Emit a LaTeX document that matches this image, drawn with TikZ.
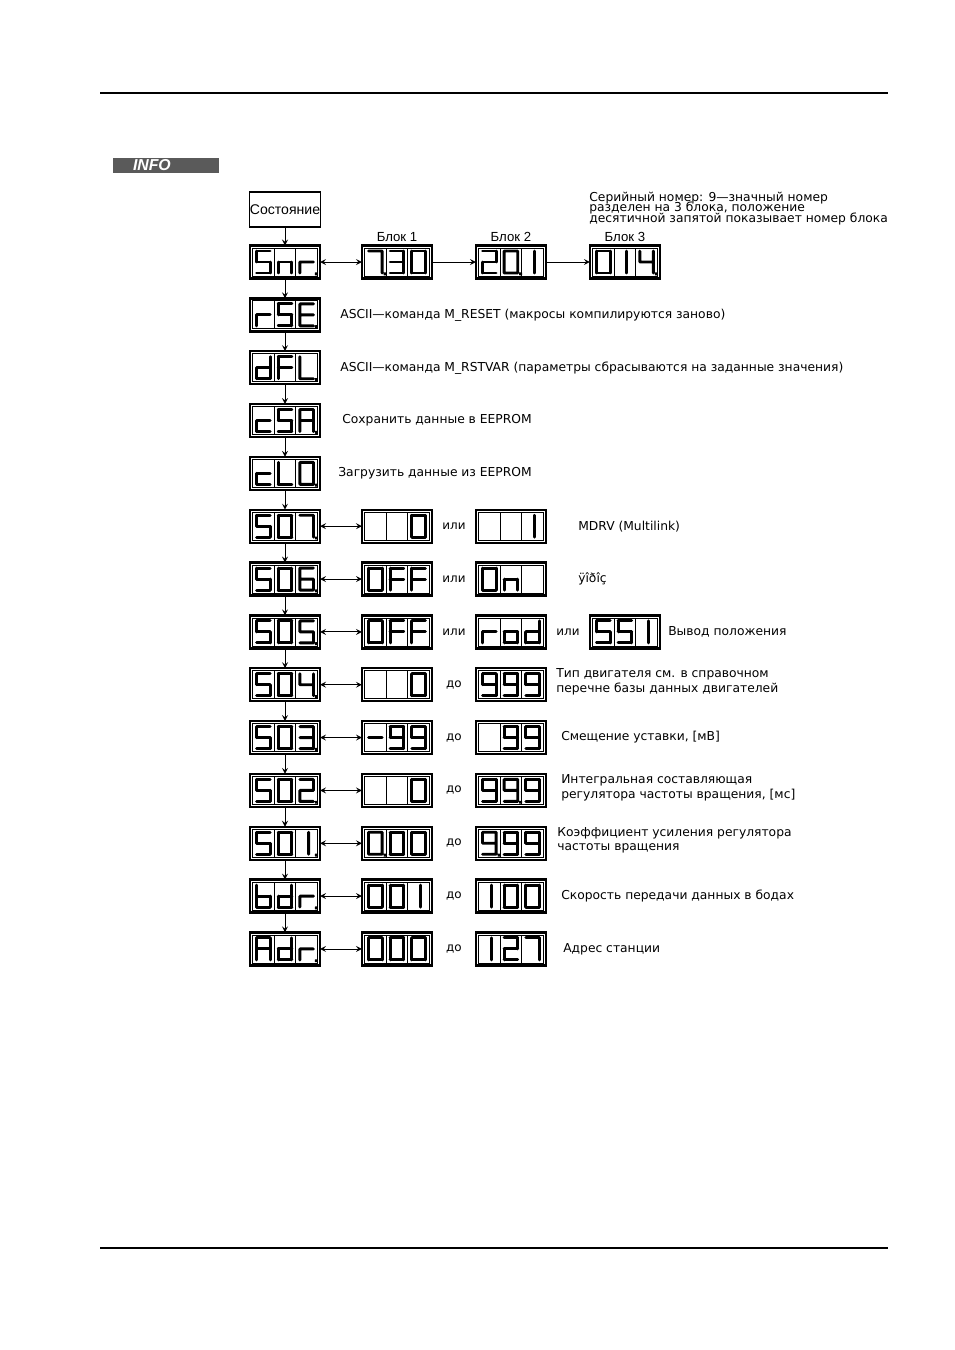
\documentclass[tikz,border=0pt]{standalone}
\usepackage{fontspec}
\setmainfont{Liberation Sans}
\newfontfamily\descfont{DejaVu Sans}
\usepackage{tikz}
\usetikzlibrary{arrows,positioning,calc}
\definecolor{infogris}{RGB}{90,90,90}
\newcommand{\notefont}{\descfont\fontsize{7}{5.9}\selectfont
  \lineskiplimit=-5pt\relax\lineskip=0pt\relax}

\tikzset{
  dispbox/.style={
    rectangle, draw, line width=1.3pt, minimum width=1.4cm,
    minimum height=0.66cm, inner sep=0pt, outer sep=0pt
  },
  statebox/.style={
    rectangle, draw, line width=0.6pt, minimum width=1.4cm,
    minimum height=0.7cm, inner sep=0pt, font=\fontsize{8}{9}\selectfont
  },
  infobox/.style={
    rectangle, fill=infogris, text=white, minimum height=0.3cm,
    inner xsep=0.4cm, inner ysep=0pt, text width=1.32cm, align=left,
    font=\fontsize{9}{9}\selectfont\bfseries\itshape
  },
  blklabel/.style={font=\fontsize{7.5}{8}\selectfont, inner sep=0pt},
  desc/.style={font=\descfont\fontsize{7}{8.4}\selectfont, inner sep=0pt, align=left},
  notetext/.style={font=\notefont, inner sep=0pt, align=left},
  orlabel/.style={font=\descfont\fontsize{6.8}{8}\selectfont, inner sep=0pt},
  rule/.style={line width=1.4pt},
  innerline/.style={line width=0.45pt},
  vlink/.style={->, >=stealth, line width=0.5pt},
  hlink/.style={<->, >=stealth, line width=0.5pt},
  segline/.style={line width=1.65pt, line cap=round, line join=round},
  % seven segments, cell centre at origin (y goes down)
  seg-a/.style={insert path={(-6.8,-11) -- (6.8,-11)}},
  seg-b/.style={insert path={(6.8,-11) -- (6.8,0)}},
  seg-c/.style={insert path={(6.8,0) -- (6.8,11)}},
  seg-d/.style={insert path={(-6.8,11) -- (6.8,11)}},
  seg-e/.style={insert path={(-6.8,0) -- (-6.8,11)}},
  seg-f/.style={insert path={(-6.8,-11) -- (-6.8,0)}},
  seg-g/.style={insert path={(-6.8,0) -- (6.8,0)}},
  seg-i/.style={insert path={(2,-11) -- (2,11)}},
  dp/.style={insert path={(9.7,11.8) circle[radius=0.25pt]}},
  ch-0/.style={seg-a,seg-b,seg-c,seg-d,seg-e,seg-f},
  ch-1/.style={seg-i},
  ch-2/.style={seg-a,seg-b,seg-g,seg-e,seg-d},
  ch-3/.style={seg-a,seg-b,seg-g,seg-c,seg-d},
  ch-4/.style={seg-f,seg-g,seg-b,seg-c},
  ch-5/.style={seg-a,seg-f,seg-g,seg-c,seg-d},
  ch-6/.style={seg-a,seg-f,seg-g,seg-e,seg-d,seg-c},
  ch-7/.style={seg-a,seg-b,seg-c},
  ch-9/.style={seg-a,seg-b,seg-c,seg-d,seg-f,seg-g},
  ch-A/.style={seg-a,seg-b,seg-c,seg-e,seg-f,seg-g},
  ch-b/.style={seg-f,seg-e,seg-d,seg-c,seg-g},
  ch-c/.style={seg-g,seg-e,seg-d},
  ch-d/.style={seg-b,seg-c,seg-d,seg-e,seg-g},
  ch-E/.style={seg-a,seg-f,seg-g,seg-e,seg-d},
  ch-F/.style={seg-a,seg-f,seg-g,seg-e},
  ch-L/.style={seg-f,seg-e,seg-d},
  ch-n/.style={seg-e,seg-g,seg-c},
  ch-o/.style={seg-g,seg-c,seg-d,seg-e},
  ch-r/.style={seg-e,seg-g},
  ch-Q/.style={seg-a,seg-b,seg-c,seg-d,seg-e,seg-f},
  ch-minus/.style={seg-g}
}

% one cell of a display: node, cell (-1,0,1), character keys
\newcommand{\segcell}[3]{%
  \draw[segline, shift={($(#1.center)+(#2*21.67,0)$)}, #3];}
% inner frame, cell walls and the three characters
\newcommand{\segdisp}[4]{%
  \draw[innerline] ($(#1.north west)+(2.5,2.5)$) rectangle ($(#1.south east)+(-2.5,-2.5)$);
  \draw[innerline] ($(#1.north)+(-10.83,2.5)$) -- ($(#1.south)+(-10.83,-2.5)$);
  \draw[innerline] ($(#1.north)+(10.83,2.5)$) -- ($(#1.south)+(10.83,-2.5)$);
  \segcell{#1}{-1}{#2}\segcell{#1}{0}{#3}\segcell{#1}{1}{#4}}

\begin{document}
\begin{tikzpicture}[x=0.02cm, y=-0.02cm, node distance=0.397cm]
  \useasboundingbox (0,0) rectangle (955,1350);

  % page rules and tag
  \draw[rule] (100,93) -- (888,93);
  \draw[rule] (100,1248) -- (888,1248);
  \node[infobox] (info) at (166,165.5) {INFO};

  % menu column
  \node[statebox] (state) at (285,209.5) {Состояние};
  \node[dispbox, below=0.36cm of state] (snr) {};
  \node[dispbox, below=of snr] (rse) {};
  \node[dispbox, below=of rse] (dfl) {};
  \node[dispbox, below=of dfl] (csa) {};
  \node[dispbox, below=of csa] (clq) {};
  \node[dispbox, below=of clq] (s07) {};
  \node[dispbox, below=of s07] (s06) {};
  \node[dispbox, below=of s06] (s05) {};
  \node[dispbox, below=of s05] (s04) {};
  \node[dispbox, below=of s04] (s03) {};
  \node[dispbox, below=of s03] (s02) {};
  \node[dispbox, below=of s02] (s01) {};
  \node[dispbox, below=of s01] (bdr) {};
  \node[dispbox, below=of bdr] (adr) {};

  % serial number blocks
  \node[dispbox, right=0.84cm of snr] (blk1) {};
  \node[dispbox, right=0.88cm of blk1] (blk2) {};
  \node[dispbox, right=0.88cm of blk2] (blk3) {};
  \node[blklabel, above=2pt of blk1] (lblk1) {Блок 1};
  \node[blklabel, above=2pt of blk2] (lblk2) {Блок 2};
  \node[blklabel, above=2pt of blk3] (lblk3) {Блок 3};

  % value displays
  \node[dispbox, right=0.84cm of s07] (s07a) {};
  \node[dispbox, right=0.88cm of s07a] (s07b) {};
  \node[dispbox, right=0.84cm of s06] (s06a) {};
  \node[dispbox, right=0.88cm of s06a] (s06b) {};
  \node[dispbox, right=0.84cm of s05] (s05a) {};
  \node[dispbox, right=0.88cm of s05a] (s05b) {};
  \node[dispbox, right=0.88cm of s05b] (s05c) {};
  \node[dispbox, right=0.84cm of s04] (s04a) {};
  \node[dispbox, right=0.88cm of s04a] (s04b) {};
  \node[dispbox, right=0.84cm of s03] (s03a) {};
  \node[dispbox, right=0.88cm of s03a] (s03b) {};
  \node[dispbox, right=0.84cm of s02] (s02a) {};
  \node[dispbox, right=0.88cm of s02a] (s02b) {};
  \node[dispbox, right=0.84cm of s01] (s01a) {};
  \node[dispbox, right=0.88cm of s01a] (s01b) {};
  \node[dispbox, right=0.84cm of bdr] (bdra) {};
  \node[dispbox, right=0.88cm of bdra] (bdrb) {};
  \node[dispbox, right=0.84cm of adr] (adra) {};
  \node[dispbox, right=0.88cm of adra] (adrb) {};

  % segment contents
  \segdisp{snr}{ch-5}{ch-n}{ch-r, dp}
  \segdisp{blk1}{ch-7, dp}{ch-3}{ch-0}
  \segdisp{blk2}{ch-2}{ch-0, dp}{ch-1}
  \segdisp{blk3}{ch-0}{ch-1}{ch-4, dp}
  \segdisp{rse}{ch-r}{ch-5}{ch-E, dp}
  \segdisp{dfl}{ch-d}{ch-F}{ch-L, dp}
  \segdisp{csa}{ch-c}{ch-5}{ch-A, dp}
  \segdisp{clq}{ch-c}{ch-L}{ch-Q, dp}
  \segdisp{s07}{ch-5}{ch-0}{ch-7, dp}
  \segdisp{s07a}{}{}{ch-0}
  \segdisp{s07b}{}{}{ch-1}
  \segdisp{s06}{ch-5}{ch-0}{ch-6, dp}
  \segdisp{s06a}{ch-0}{ch-F}{ch-F}
  \segdisp{s06b}{ch-0}{ch-n}{}
  \segdisp{s05}{ch-5}{ch-0}{ch-5, dp}
  \segdisp{s05a}{ch-0}{ch-F}{ch-F}
  \segdisp{s05b}{ch-r}{ch-o}{ch-d}
  \segdisp{s05c}{ch-5}{ch-5}{ch-1}
  \segdisp{s04}{ch-5}{ch-0}{ch-4, dp}
  \segdisp{s04a}{}{}{ch-0}
  \segdisp{s04b}{ch-9}{ch-9}{ch-9}
  \segdisp{s03}{ch-5}{ch-0}{ch-3, dp}
  \segdisp{s03a}{ch-minus}{ch-9}{ch-9}
  \segdisp{s03b}{}{ch-9}{ch-9}
  \segdisp{s02}{ch-5}{ch-0}{ch-2, dp}
  \segdisp{s02a}{}{}{ch-0}
  \segdisp{s02b}{ch-9}{ch-9, dp}{ch-9}
  \segdisp{s01}{ch-5}{ch-0}{ch-1, dp}
  \segdisp{s01a}{ch-0, dp}{ch-0}{ch-0}
  \segdisp{s01b}{ch-9, dp}{ch-9}{ch-9}
  \segdisp{bdr}{ch-b}{ch-d}{ch-r, dp}
  \segdisp{bdra}{ch-0}{ch-0}{ch-1}
  \segdisp{bdrb}{ch-1}{ch-0}{ch-0}
  \segdisp{adr}{ch-A}{ch-d}{ch-r, dp}
  \segdisp{adra}{ch-0}{ch-0}{ch-0}
  \segdisp{adrb}{ch-1}{ch-2}{ch-7}

  % descriptions
  \node[notetext, anchor=base west] (snnote) at (589,222)
    {Серийный номер: 9—значный номер\\разделен на 3 блока, положение\\десятичной запятой показывает номер блока};
  \node[desc, right=0.4cm of rse] (trse) {ASCII—команда M\_RESET (макросы компилируются заново)};
  \node[desc, right=0.4cm of dfl] (tdfl) {ASCII—команда M\_RSTVAR (параметры сбрасываются на заданные значения)};
  \node[desc, right=0.44cm of csa] (tcsa) {Сохранить данные в EEPROM};
  \node[desc, right=0.36cm of clq] (tclq) {Загрузить данные из EEPROM};
  \node[desc, right=0.64cm of s07b] (ts07) {MDRV (Multilink)};
  \node[desc, right=0.64cm of s06b] (ts06) {ÿîðîç};
  \node[desc, right=0.16cm of s05c] (ts05) {Вывод положения};
  \node[desc, right=0.2cm of s04b, yshift=0.06cm] (ts04) {Тип двигателя см. в справочном\\перечне базы данных двигателей};
  \node[desc, right=0.3cm of s03b] (ts03) {Смещение уставки, [мВ]};
  \node[desc, right=0.3cm of s02b, yshift=0.05cm] (ts02) {Интегральная составляющая\\регулятора частоты вращения, [мс]};
  \node[desc, right=0.22cm of s01b, yshift=0.06cm] (ts01) {Коэффициент усиления регулятора\\частоты вращения};
  \node[desc, right=0.3cm of bdrb] (tbdr) {Скорость передачи данных в бодах};
  \node[desc, right=0.34cm of adrb] (tadr) {Адрес станции};

  % или / до
  \path (s07a) -- node[orlabel] (o07) {или} (s07b);
  \path (s06a) -- node[orlabel] (o06) {или} (s06b);
  \path (s05a) -- node[orlabel] (o05) {или} (s05b);
  \path (s05b) -- node[orlabel] (o05b) {или} (s05c);
  \path (s04a) -- node[orlabel] (o04) {до} (s04b);
  \path (s03a) -- node[orlabel] (o03) {до} (s03b);
  \path (s02a) -- node[orlabel] (o02) {до} (s02b);
  \path (s01a) -- node[orlabel] (o01) {до} (s01b);
  \path (bdra) -- node[orlabel] (obdr) {до} (bdrb);
  \path (adra) -- node[orlabel] (oadr) {до} (adrb);

  % Arrows
  \draw[vlink] (state) -- (snr);
  \draw[vlink] (snr) -- (rse);
  \draw[vlink] (rse) -- (dfl);
  \draw[vlink] (dfl) -- (csa);
  \draw[vlink] (csa) -- (clq);
  \draw[vlink] (clq) -- (s07);
  \draw[vlink] (s07) -- (s06);
  \draw[vlink] (s06) -- (s05);
  \draw[vlink] (s05) -- (s04);
  \draw[vlink] (s04) -- (s03);
  \draw[vlink] (s03) -- (s02);
  \draw[vlink] (s02) -- (s01);
  \draw[vlink] (s01) -- (bdr);
  \draw[vlink] (bdr) -- (adr);
  \draw[hlink] (snr) -- (blk1);
  \draw[vlink] (blk1) -- (blk2);
  \draw[vlink] (blk2) -- (blk3);
  \draw[hlink] (s07) -- (s07a);
  \draw[hlink] (s06) -- (s06a);
  \draw[hlink] (s05) -- (s05a);
  \draw[hlink] (s04) -- (s04a);
  \draw[hlink] (s03) -- (s03a);
  \draw[hlink] (s02) -- (s02a);
  \draw[hlink] (s01) -- (s01a);
  \draw[hlink] (bdr) -- (bdra);
  \draw[hlink] (adr) -- (adra);
\end{tikzpicture}
\end{document}
